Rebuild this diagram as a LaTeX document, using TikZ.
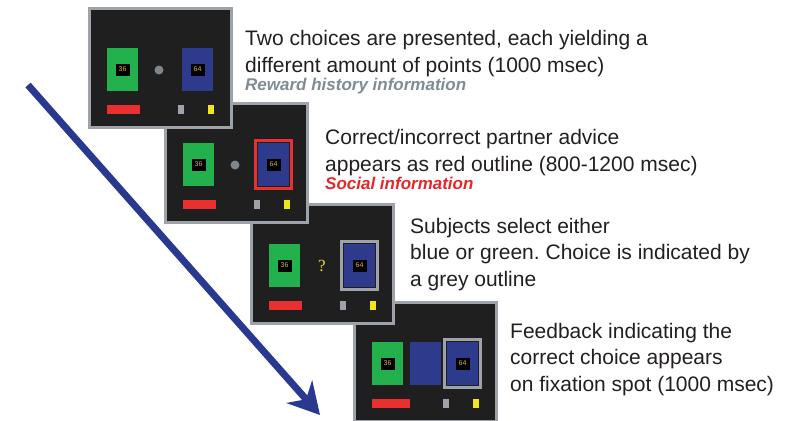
\documentclass[tikz,border=0pt]{standalone}
\usepackage{fontspec}
\setmainfont{Liberation Sans}
\newfontfamily\qmarkfont{Liberation Serif}
\usetikzlibrary{arrows.meta}
\frenchspacing

\definecolor{scrbg}{HTML}{1F1F1F}
\definecolor{scrframe}{HTML}{9DA3A8}
\definecolor{choicegreen}{HTML}{22B14C}
\definecolor{choiceblue}{HTML}{2E3A8C}
\definecolor{barred}{HTML}{E8312F}
\definecolor{baryellow}{HTML}{F2E51B}
\definecolor{numtext}{HTML}{D4B24A}
\definecolor{dotgray}{HTML}{7E858B}
\definecolor{arrowblue}{HTML}{2A3990}
\definecolor{rewardgray}{HTML}{7F8C94}
\definecolor{socialred}{HTML}{E8262A}
\definecolor{txt}{HTML}{231F20}

\tikzset{
    trialscreen/.style={draw=scrframe, line width=3pt, fill=scrbg, minimum width=142pt, minimum height=119pt, inner sep=0pt},
    choice/.style={minimum width=31pt, minimum height=43pt, inner sep=0pt},
    numbox/.style={fill=black, minimum width=14pt, minimum height=12pt, inner sep=0pt, text=numtext, font=\fontsize{7}{7}\selectfont},
    pickbox/.style={line width=3pt, minimum width=36pt, minimum height=48pt, inner sep=0pt},
    scorebar/.style={minimum height=9pt, inner sep=0pt},
    fixdot/.style={circle, fill=dotgray, minimum size=9pt, inner sep=0pt},
    desc/.style={anchor=north west, align=left, inner sep=0pt, text=txt, font=\fontsize{21}{26.5}\selectfont},
    info/.style={anchor=base west, inner sep=0pt, font=\fontsize{17}{17}\selectfont\bfseries\itshape},
}

\begin{document}
\begin{tikzpicture}[x=1pt, y=-1pt]
        \useasboundingbox (0,0) rectangle (791,420);
        \clip (0,0) rectangle (791,420);

        % time arrow
        \coordinate (A0) at (28,85);
        \coordinate (A1) at (320,415);
        \draw[arrowblue, line width=7pt, -{Stealth[length=31pt, width=34pt, inset=10pt]}] (A0) -- (A1);

        % feedback screen
        \begin{scope}[shift={(353,301)}]
            \node[trialscreen] (S4) at (72.5,61) {};
            \node[choice, fill=choicegreen] (G4) at (34.5,62.5) {};
            \node[numbox] (NG4) at (G4) {36};
            \node[choice, fill=choiceblue] (M4) at (72,62.5) {};
            \node[choice, fill=choiceblue] (B4) at (109.5,62.5) {};
            \node[pickbox, draw=scrframe] (P4) at (B4) {};
            \node[numbox] (NB4) at (B4) {64};
            \node[scorebar, fill=barred, minimum width=38pt] (R4) at (38,102.5) {};
            \node[scorebar, fill=scrframe, minimum width=6pt] (H4) at (93,102.5) {};
            \node[scorebar, fill=baryellow, minimum width=6pt] (Y4) at (123,102.5) {};
        \end{scope}

        % choice screen
        \begin{scope}[shift={(250,203)}]
            \node[trialscreen] (S3) at (72.5,61) {};
            \node[choice, fill=choicegreen] (G3) at (34.5,62.5) {};
            \node[numbox] (NG3) at (G3) {36};
            \node[text=baryellow!85!numtext, font=\qmarkfont\fontsize{17}{17}\selectfont] (Q3) at (72,62.5) {?};
            \node[choice, fill=choiceblue] (B3) at (109.5,62.5) {};
            \node[pickbox, draw=scrframe] (P3) at (B3) {};
            \node[numbox] (NB3) at (B3) {64};
            \node[scorebar, fill=barred, minimum width=33pt] (R3) at (35.5,102.5) {};
            \node[scorebar, fill=scrframe, minimum width=6pt] (H3) at (93,102.5) {};
            \node[scorebar, fill=baryellow, minimum width=6pt] (Y3) at (123,102.5) {};
        \end{scope}

        % advice screen
        \begin{scope}[shift={(164,102)}]
            \node[trialscreen] (S2) at (72.5,61) {};
            \node[choice, fill=choicegreen] (G2) at (34.5,62.5) {};
            \node[numbox] (NG2) at (G2) {36};
            \node[fixdot] (D2) at (71,63) {};
            \node[choice, fill=choiceblue] (B2) at (109.5,62.5) {};
            \node[pickbox, draw=barred] (P2) at (B2) {};
            \node[numbox] (NB2) at (B2) {64};
            \node[scorebar, fill=barred, minimum width=33pt] (R2) at (35.5,102.5) {};
            \node[scorebar, fill=scrframe, minimum width=6pt] (H2) at (93,102.5) {};
            \node[scorebar, fill=baryellow, minimum width=6pt] (Y2) at (123,102.5) {};
        \end{scope}

        % options screen
        \begin{scope}[shift={(88,7)}]
            \node[trialscreen] (S1) at (72.5,61) {};
            \node[choice, fill=choicegreen] (G1) at (34.5,62.5) {};
            \node[numbox] (NG1) at (G1) {36};
            \node[fixdot] (D1) at (71,63) {};
            \node[choice, fill=choiceblue] (B1) at (109.5,62.5) {};
            \node[numbox] (NB1) at (B1) {64};
            \node[scorebar, fill=barred, minimum width=33pt] (R1) at (35.5,102.5) {};
            \node[scorebar, fill=scrframe, minimum width=6pt] (H1) at (93,102.5) {};
            \node[scorebar, fill=baryellow, minimum width=6pt] (Y1) at (123,102.5) {};
        \end{scope}

        % descriptions
        \node[desc] (T1) at (245,27) {\strut Two choices are presented, each yielding a\\different amount of points (1000 msec)};
        \node[info, text=rewardgray] (I1) at (245,90) {Reward history information};

        \node[desc] (T2) at (325,126) {\strut Correct/incorrect partner advice\\appears as red outline (800-1200 msec)};
        \node[info, text=socialred] (I2) at (325,189) {Social information};

        \node[desc] (T3) at (410,214.45) {\strut Subjects select either\\blue or green. Choice is indicated by\\a grey outline};

        \node[desc] (T4) at (510,319.45) {\strut Feedback indicating the\\correct choice appears\\on fixation spot (1000 msec)};
    \end{tikzpicture}
\end{document}
